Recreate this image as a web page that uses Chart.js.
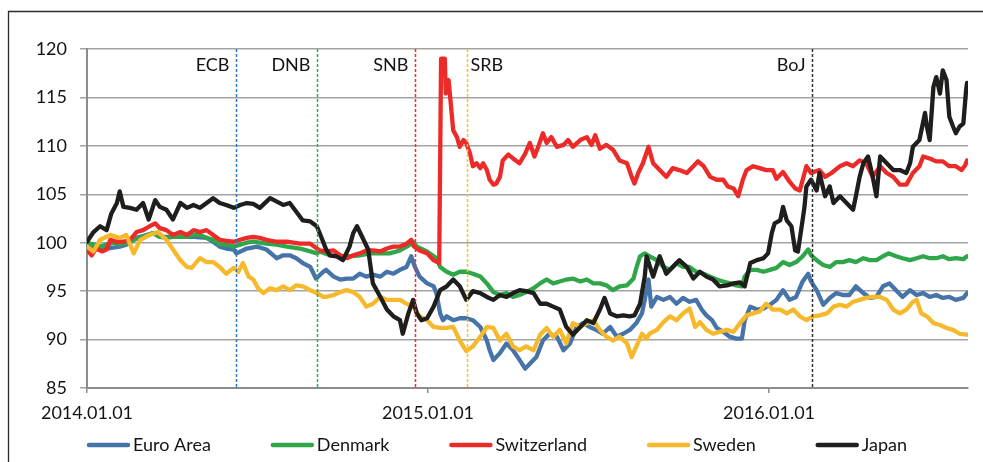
<!DOCTYPE html>
<html lang="en">
<head>
    <meta charset="UTF-8">
    <title>Exchange rates</title>
    <script src="https://cdn.jsdelivr.net/npm/chart.js@4.4.1/dist/chart.umd.min.js"></script>
</head>
<style>
    body {
        margin: 0;
        background: #fff;
    }
</style>
<body>
    <canvas id="myChart" width="983" height="462"></canvas>

    <script>
        // x values are days counted from 2014.01.01
        const xTickDays = [0, 365, 730]
        const xTickLabels = ['2014.01.01', '2015.01.01', '2016.01.01']
        const yTicks = [85, 90, 95, 100, 105, 110, 115, 120]

        const eventDays = [160, 246, 351, 407, 776]
        const eventNames = ['ECB', 'DNB', 'SNB', 'SRB', 'BoJ']
        const eventColors = ['#2f7cc4', '#2eae50', '#ff2626', '#ffbf1f', '#333333']

        const seriesNames = ['Euro Area', 'Denmark', 'Switzerland', 'Sweden', 'Japan']
        const seriesColors = ['#4673a8', '#30a64a', '#ec2a27', '#f6b92b', '#1e1e1c']

        const euroArea = [[0,99.6],[7,99.4],[14,99.4],[21,99.4],[35,99.6],[42,99.8],[53,100.5],[64,100.8],[71,101.0],[78,100.6],[92,100.6],[107,100.6],[114,100.6],[128,100.5],[135,100.1],[142,99.6],[149,99.4],[157,99.3],[160,98.9],[171,99.4],[182,99.6],[192,99.3],[203,98.4],[210,98.7],[217,98.7],[224,98.4],[231,97.9],[239,97.5],[245,96.3],[253,97.0],[256,97.2],[264,96.5],[271,96.2],[278,96.3],[285,96.3],[292,96.8],[299,96.5],[306,96.7],[314,96.5],[321,97.0],[328,96.8],[335,97.2],[342,97.5],[347,98.6],[351,97.5],[356,96.5],[364,95.8],[371,95.5],[374,94.8],[378,92.7],[381,92.0],[385,92.4],[392,92.0],[399,92.2],[406,92.2],[413,92.0],[421,91.3],[428,89.9],[431,88.9],[435,87.9],[442,88.6],[449,89.6],[456,88.9],[463,87.9],[469,87.0],[474,87.5],[481,88.2],[488,89.9],[495,90.6],[503,90.3],[510,88.9],[517,89.6],[524,91.3],[531,91.7],[538,91.3],[545,91.0],[552,90.6],[560,91.3],[567,90.3],[574,90.6],[581,91.0],[588,91.7],[594,92.7],[597,94.1],[601,96.2],[604,93.4],[610,94.4],[617,94.1],[624,94.4],[631,93.7],[638,94.3],[645,93.9],[652,94.1],[658,93.1],[663,92.5],[669,92.0],[674,91.2],[681,90.8],[688,90.3],[695,90.1],[701,90.1],[704,92.0],[710,93.4],[717,93.1],[724,93.2],[731,93.6],[738,94.1],[745,95.1],[752,94.1],[759,94.4],[766,96.0],[772,96.8],[775,96.0],[781,95.1],[788,93.6],[795,94.3],[802,94.8],[809,94.6],[816,94.6],[823,95.5],[831,94.8],[838,94.3],[845,94.4],[852,95.5],[859,95.8],[866,95.1],[873,94.4],[881,95.1],[888,94.6],[895,94.8],[902,94.4],[909,94.6],[916,94.3],[923,94.4],[930,94.1],[938,94.3],[942,94.8]]

        const denmark = [[0,100.0],[7,99.8],[14,99.6],[21,99.8],[28,100.0],[35,99.8],[42,100.0],[50,100.3],[57,100.5],[64,100.8],[71,101.0],[78,100.6],[85,100.5],[92,100.6],[100,100.6],[107,100.6],[114,100.8],[121,100.8],[128,100.5],[135,100.3],[142,99.8],[149,99.8],[157,99.6],[164,99.8],[171,100.0],[178,100.1],[185,100.0],[192,99.9],[203,99.8],[214,99.6],[228,99.4],[239,99.1],[246,98.9],[249,99.1],[260,98.7],[271,98.6],[281,98.6],[292,98.7],[303,98.9],[314,98.9],[324,98.9],[335,99.2],[346,99.8],[349,100.1],[353,99.6],[364,99.1],[374,98.4],[378,97.5],[385,97.0],[392,96.7],[399,97.0],[406,97.0],[413,96.8],[421,96.5],[428,95.8],[435,94.9],[442,94.6],[449,94.8],[456,94.4],[463,94.6],[470,94.9],[478,95.3],[485,95.8],[492,96.2],[499,95.8],[506,96.0],[513,96.2],[520,96.3],[528,96.0],[535,96.2],[542,95.8],[549,95.8],[556,95.6],[563,95.1],[570,95.5],[578,95.6],[585,96.3],[588,97.4],[592,98.6],[597,98.9],[602,98.6],[610,98.2],[617,97.5],[624,97.2],[631,97.9],[638,97.5],[645,97.5],[652,97.0],[660,96.8],[667,96.5],[674,96.2],[681,96.0],[688,95.8],[695,95.6],[701,95.5],[704,96.5],[710,97.2],[717,97.2],[724,97.0],[731,97.2],[738,97.4],[745,98.0],[752,97.7],[759,98.0],[766,98.6],[772,99.3],[775,98.7],[781,98.2],[788,97.7],[795,97.5],[802,98.0],[809,98.0],[816,98.2],[823,98.0],[831,98.4],[838,98.2],[845,98.2],[852,98.6],[858,98.9],[866,98.6],[873,98.4],[881,98.2],[888,98.4],[895,98.6],[902,98.4],[909,98.4],[916,98.6],[923,98.3],[930,98.4],[938,98.3],[942,98.6]]

        const switzerland = [[0,99.3],[5,98.7],[10,99.4],[16,99.1],[21,99.3],[25,100.3],[32,100.1],[39,100.1],[46,100.3],[53,101.1],[60,101.3],[67,101.7],[73,102.0],[78,101.5],[85,101.3],[92,100.8],[100,101.1],[107,100.8],[114,101.3],[121,101.1],[128,101.3],[135,100.8],[142,100.3],[149,100.2],[157,100.1],[164,100.3],[171,100.5],[178,100.6],[185,100.5],[192,100.3],[203,100.1],[214,100.1],[228,99.9],[239,99.9],[249,99.2],[256,99.1],[264,99.2],[271,98.7],[278,98.4],[285,98.7],[292,98.9],[299,99.2],[306,99.2],[314,99.1],[321,99.4],[328,99.6],[335,99.6],[342,99.9],[347,100.3],[350,99.6],[356,99.2],[364,98.9],[371,98.2],[377,97.9],[379,119.0],[383,119.0],[384,115.4],[387,116.8],[388,115.8],[392,111.6],[396,110.9],[399,109.9],[403,110.6],[406,110.3],[410,109.2],[413,107.9],[417,108.2],[421,107.7],[424,108.2],[428,107.5],[431,106.5],[435,106.0],[438,106.1],[442,106.8],[445,108.5],[451,109.1],[456,108.7],[463,108.2],[469,109.2],[474,110.3],[479,108.9],[483,109.9],[488,111.3],[492,110.3],[497,110.9],[503,109.9],[510,110.1],[515,110.6],[520,109.9],[528,110.6],[535,110.9],[540,110.1],[544,111.1],[549,109.7],[556,110.1],[563,109.6],[570,108.5],[578,108.2],[583,106.8],[586,106.1],[590,107.2],[595,108.2],[601,109.9],[606,108.2],[613,107.5],[620,106.8],[627,107.7],[634,107.5],[642,107.2],[649,107.9],[654,108.4],[660,107.9],[667,106.8],[674,106.5],[681,106.5],[686,105.8],[692,105.6],[697,104.8],[702,106.5],[706,107.5],[713,107.9],[720,107.7],[727,107.5],[734,107.5],[738,106.6],[745,107.3],[752,106.3],[758,105.6],[763,105.4],[770,107.9],[775,107.2],[784,107.5],[790,106.8],[797,107.2],[806,107.9],[813,108.2],[820,107.9],[827,108.5],[834,108.2],[841,106.8],[849,107.9],[856,107.2],[863,106.8],[870,106.0],[877,106.0],[884,107.2],[891,107.9],[895,108.9],[902,108.7],[909,108.4],[916,108.4],[923,107.9],[930,107.9],[936,107.5],[940,108.0],[942,108.5]]

        const sweden = [[0,99.6],[7,99.1],[14,100.3],[25,100.8],[35,100.5],[42,100.8],[50,98.9],[57,100.3],[67,100.8],[76,101.1],[85,100.3],[92,99.3],[100,98.2],[107,97.5],[112,97.4],[121,98.4],[128,98.0],[135,98.0],[142,97.5],[149,96.8],[157,97.4],[162,97.0],[167,97.9],[173,96.5],[178,96.2],[183,95.3],[189,94.8],[196,95.3],[203,95.1],[210,95.5],[217,95.1],[224,95.6],[231,95.5],[239,95.1],[246,94.8],[253,94.4],[256,94.4],[264,94.6],[271,94.9],[278,95.1],[285,94.9],[292,94.4],[299,93.4],[306,93.7],[314,94.4],[321,94.1],[328,94.1],[335,94.1],[342,93.7],[349,93.4],[356,92.4],[364,92.0],[371,91.3],[378,91.2],[385,91.2],[392,91.3],[399,89.9],[406,88.8],[413,89.3],[421,90.3],[428,91.3],[435,91.2],[442,89.9],[449,90.6],[456,89.3],[463,88.9],[470,89.3],[478,88.9],[485,90.5],[492,91.2],[499,90.3],[506,91.0],[513,89.6],[520,91.7],[528,91.3],[535,91.7],[542,92.0],[549,91.0],[556,90.3],[563,89.9],[570,90.3],[578,89.6],[583,88.2],[588,89.3],[594,90.6],[599,90.1],[602,90.6],[610,91.0],[617,91.8],[624,92.4],[631,92.0],[638,92.7],[645,93.2],[651,91.3],[656,91.8],[663,91.0],[670,90.6],[677,90.8],[685,91.0],[692,90.8],[699,91.7],[706,92.5],[713,92.7],[720,92.9],[727,93.7],[734,93.1],[742,93.1],[749,92.7],[756,93.1],[763,92.4],[770,92.0],[777,92.4],[784,92.5],[792,92.7],[799,93.4],[806,93.6],[813,93.4],[820,93.9],[827,94.1],[834,94.3],[841,94.4],[849,94.4],[856,94.1],[863,93.1],[870,92.7],[877,93.1],[884,93.9],[888,94.1],[893,92.7],[899,92.4],[906,91.7],[913,91.5],[920,91.2],[927,91.0],[934,90.6],[942,90.5]]

        const japan = [[0,100.1],[7,101.1],[14,101.7],[21,101.3],[26,103.0],[32,104.1],[35,105.3],[39,103.7],[46,103.6],[53,103.4],[60,104.1],[66,102.4],[73,104.4],[78,103.7],[85,103.4],[92,102.4],[100,104.1],[107,103.6],[114,103.9],[121,103.6],[128,104.1],[135,104.6],[142,104.1],[149,103.9],[157,103.6],[164,103.9],[171,104.1],[178,104.0],[185,103.6],[196,104.6],[210,103.9],[217,104.1],[224,103.2],[231,102.3],[239,102.2],[246,101.7],[249,101.0],[256,99.3],[260,98.7],[267,98.6],[274,98.2],[281,99.6],[285,101.0],[289,101.7],[296,100.3],[301,99.3],[306,95.8],[314,94.4],[321,93.1],[328,92.4],[335,92.0],[338,90.6],[344,92.7],[349,94.1],[353,92.7],[358,92.0],[364,92.2],[371,93.4],[378,95.1],[385,95.5],[392,96.2],[399,95.5],[406,94.1],[413,95.0],[421,94.8],[428,94.4],[435,94.1],[442,94.6],[449,94.4],[456,94.8],[463,95.1],[470,95.0],[478,94.8],[485,93.7],[492,93.7],[499,93.4],[506,93.1],[513,91.3],[520,90.5],[528,91.3],[535,92.0],[542,91.7],[549,93.1],[554,94.3],[560,92.7],[567,92.4],[574,92.5],[581,92.4],[586,92.5],[592,93.7],[597,96.5],[599,98.6],[606,96.5],[613,98.6],[620,96.8],[627,97.5],[634,98.2],[642,97.5],[649,96.3],[656,97.0],[663,96.5],[670,96.2],[677,95.5],[685,95.6],[692,95.8],[699,95.9],[704,95.5],[710,97.9],[717,98.2],[724,98.4],[729,98.9],[733,101.0],[736,102.0],[742,102.3],[745,103.7],[749,102.3],[754,101.7],[758,99.2],[761,99.1],[765,101.7],[768,103.7],[770,105.8],[775,106.5],[781,105.4],[784,107.2],[790,104.8],[795,105.8],[799,104.1],[806,104.8],[813,104.1],[820,103.4],[823,104.8],[827,106.8],[831,108.2],[836,108.9],[841,106.8],[845,104.8],[849,108.9],[856,108.2],[863,107.5],[870,107.5],[877,107.2],[881,108.2],[884,109.9],[891,110.6],[897,113.4],[899,112.0],[902,110.6],[906,116.1],[909,117.1],[913,115.4],[916,117.8],[920,116.8],[923,113.0],[927,112.0],[930,111.3],[934,112.0],[938,112.3],[941,115.8],[942,116.5]]

        const seriesData = [euroArea, denmark, switzerland, sweden, japan]

        const font = { family: 'Lato', size: 18 }
        const textColor = '#141414'

        // white background and the outer frame (left and top edges show)
        const frame = {
            id: 'frame',
            beforeDraw(chart) {
                const ctx = chart.ctx
                ctx.save()
                ctx.fillStyle = '#fff'
                ctx.fillRect(0, 0, chart.width, chart.height)
                ctx.strokeStyle = '#2a2a2a'
                ctx.lineWidth = 1.3
                ctx.beginPath()
                ctx.moveTo(8.5, chart.height)
                ctx.lineTo(8.5, 11.5)
                ctx.lineTo(chart.width, 11.5)
                ctx.stroke()
                ctx.restore()
            }
        }

        // dashed policy lines with their labels
        const eventLines = {
            id: 'eventLines',
            afterDatasetsDraw(chart) {
                const {ctx, chartArea, scales} = chart
                ctx.save()
                eventDays.forEach((day, i) => {
                    const px = Math.round(scales.x.getPixelForValue(day)) + 0.5
                    ctx.strokeStyle = eventColors[i]
                    ctx.lineWidth = 1.5
                    ctx.setLineDash([3, 2])
                    ctx.beginPath()
                    ctx.moveTo(px, chartArea.top)
                    ctx.lineTo(px, chartArea.bottom)
                    ctx.stroke()

                    const onRight = eventNames[i] === 'SRB'
                    ctx.fillStyle = textColor
                    ctx.font = `${font.size}px ${font.family}`
                    ctx.textBaseline = 'middle'
                    ctx.textAlign = onRight ? 'left' : 'right'
                    ctx.fillText(eventNames[i], px + (onRight ? 3 : -7), chartArea.top + 16)
                })
                ctx.restore()
            }
        }

        // legend row under the axis: line sample, then name
        const bottomLegend = {
            id: 'bottomLegend',
            afterDraw(chart) {
                const ctx = chart.ctx
                ctx.save()
                ctx.font = `${font.size}px ${font.family}`
                const sample = 43, gap = 3, spacing = 60
                const items = chart.data.datasets.map(ds => ({
                    ds, w: sample + gap + ctx.measureText(ds.label).width
                }))
                const total = items.reduce((s, it) => s + it.w, 0) + spacing * (items.length - 1)
                let x = 497 - total / 2
                const y = 445
                items.forEach(it => {
                    ctx.strokeStyle = it.ds.borderColor
                    ctx.lineWidth = 4.5
                    ctx.lineCap = 'round'
                    ctx.beginPath()
                    ctx.moveTo(x + 2, y)
                    ctx.lineTo(x + sample - 2, y)
                    ctx.stroke()
                    ctx.fillStyle = textColor
                    ctx.textBaseline = 'middle'
                    ctx.textAlign = 'left'
                    ctx.fillText(it.ds.label, x + sample + gap, y)
                    x += it.w + spacing
                })
                ctx.restore()
            }
        }

        const chart = new Chart('myChart', {
            type: 'line',
            data: {
                datasets: seriesNames.map((name, i) => ({
                    label: name,
                    data: seriesData[i].map(([x, y]) => ({x, y})),
                    borderColor: seriesColors[i],
                    borderWidth: 4.3,
                    borderCapStyle: 'round',
                    borderJoinStyle: 'round',
                    pointRadius: 0,
                    fill: false,
                    tension: 0,
                    order: seriesNames.length - i
                }))
            },
            options: {
                responsive: false,
                animation: false,
                devicePixelRatio: 1,
                layout: {
                    padding: {top: 49, right: 15, bottom: 34, left: 0}
                },
                plugins: {
                    legend: {display: false},
                    tooltip: {enabled: false}
                },
                scales: {
                    x: {
                        type: 'linear',
                        min: 0,
                        max: 943,
                        afterBuildTicks: axis => { axis.ticks = xTickDays.map(v => ({value: v})) },
                        afterFit: axis => { axis.height = 40 },
                        ticks: {
                            callback: (value, index) => xTickLabels[index],
                            font: font,
                            color: textColor,
                            padding: 9,
                            maxRotation: 0,
                            autoSkip: false
                        },
                        grid: {
                            drawOnChartArea: false,
                            drawTicks: true,
                            tickLength: 5,
                            color: '#8c8c8c',
                            lineWidth: 1.5
                        },
                        border: {color: '#8c8c8c', width: 2}
                    },
                    y: {
                        min: 85,
                        max: 120,
                        afterBuildTicks: axis => { axis.ticks = yTicks.map(v => ({value: v})) },
                        afterFit: axis => { axis.width = 87 },
                        ticks: {
                            font: font,
                            color: textColor,
                            padding: 13
                        },
                        grid: {
                            color: '#a3a3a3',
                            lineWidth: 1.5,
                            tickLength: 7
                        },
                        border: {color: '#8c8c8c', width: 2}
                    }
                }
            },
            plugins: [frame, eventLines, bottomLegend]
        })
    </script>
</body>
</html>
